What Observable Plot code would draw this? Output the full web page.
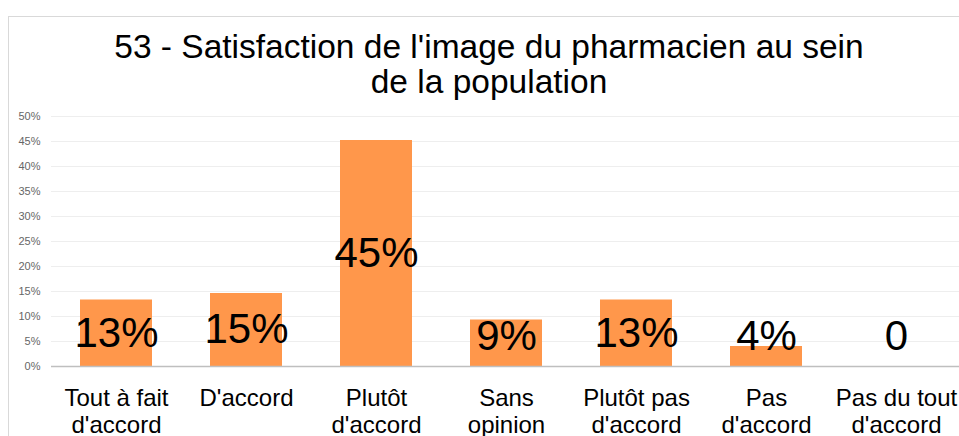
<!DOCTYPE html>
<html>
<head>
<meta charset="utf-8">
<script src="https://cdn.jsdelivr.net/npm/d3@7"></script>
<script src="https://cdn.jsdelivr.net/npm/@observablehq/plot@0.6"></script>
<style>
  html, body { margin: 0; padding: 0; background: #fff; width: 959px; height: 436px; overflow: hidden; }
  #wrap { position: relative; width: 959px; height: 436px; font-family: "Liberation Sans", Arial, sans-serif; }
  #frame { position: absolute; left: 8px; top: 16px; width: 1000px; height: 500px; border-left: 1px solid #d9d9d9; border-top: 1px solid #d9d9d9; }
  #title { position: absolute; left: 0; top: 29px; width: 978px; text-align: center; font-size: 33.5px; line-height: 35px; color: #000; }
  #chart { position: absolute; left: 0; top: 0; }
</style>
</head>
<body>
<div id="wrap">
  <div id="frame"></div>
  <div id="title">53 - Satisfaction de l'image du pharmacien au sein<br>de la population</div>
  <div id="chart"></div>
</div>
<script>
const categories = ["Tout à fait d'accord", "D'accord", "Plutôt d'accord", "Sans opinion", "Plutôt pas d'accord", "Pas d'accord", "Pas du tout d'accord"];
const tickLabels = ["Tout à fait\nd'accord", "D'accord", "Plutôt\nd'accord", "Sans\nopinion", "Plutôt pas\nd'accord", "Pas\nd'accord", "Pas du tout\nd'accord"];
const values = [13.3, 14.6, 45.2, 9.3, 13.3, 4.0, 0];
const valueLabels = ["13%", "15%", "45%", "9%", "13%", "4%", "0"];
const yTicks = [0, 5, 10, 15, 20, 25, 30, 35, 40, 45, 50];

const data = categories.map((c, i) => ({cat: c, v: values[i], label: valueLabels[i]}));
const labelOf = new Map(categories.map((c, i) => [c, tickLabels[i]]));

const chart = Plot.plot({
  width: 959,
  height: 436,
  marginTop: 116,
  marginBottom: 70,
  marginLeft: 51,
  marginRight: 0,
  style: {background: "transparent", fontFamily: "'Liberation Sans', Arial, sans-serif", overflow: "visible"},
  x: {type: "band", domain: categories, range: [51, 961], paddingInner: 0.446, paddingOuter: 0.223, align: 0.5},
  y: {domain: [0, 50]},
  marks: [
    Plot.gridY(yTicks, {stroke: "#eeeeee", strokeOpacity: 1}),
    Plot.barY(data, {x: "cat", y: "v", fill: "#ff974b"}),
    Plot.ruleY([0], {stroke: "#bfbfbf", strokeWidth: 1.5}),
    Plot.text(data, {x: "cat", y: d => Math.max(d.v / 2, 6), text: "label", fontSize: 42, fill: "#000", lineAnchor: "middle"}),
    Plot.axisY(yTicks, {tickSize: 0, tickPadding: 11, tickFormat: d => d + "%", fontSize: 11, color: "#666666", label: null}),
    Plot.axisX({tickSize: 0, tickPadding: 21, tickFormat: d => labelOf.get(d), fontSize: 24, lineHeight: 1.1, color: "#000", label: null})
  ]
});
document.getElementById("chart").appendChild(chart);
</script>
</body>
</html>
